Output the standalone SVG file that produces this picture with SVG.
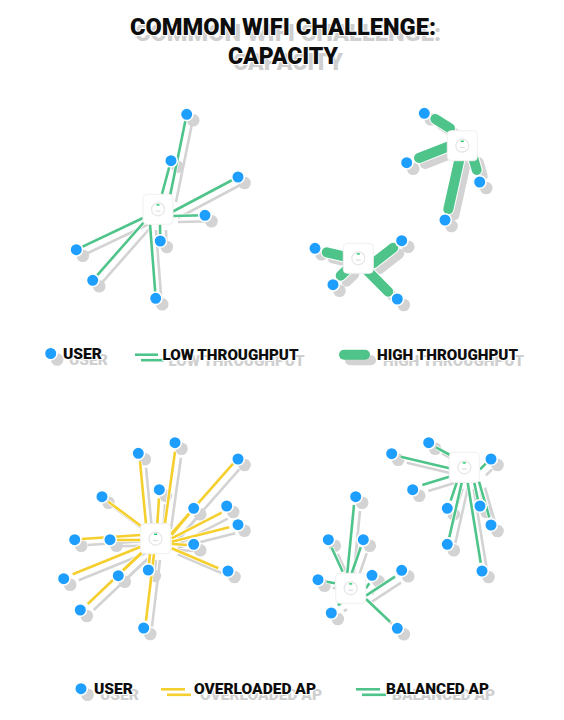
<svg xmlns="http://www.w3.org/2000/svg" xmlns:xlink="http://www.w3.org/1999/xlink" width="564" height="720" viewBox="0 0 564 720">
<style>
.bg{fill:#fff}
.sh{stroke:#d3d3d3;fill:#d3d3d3}
.halo{stroke:#fff;fill:#fff}
line{stroke-linecap:butt}
.green{stroke:#4fc48a;stroke-width:2.6;fill:none}
.yellow{stroke:#f5cf2e;stroke-width:2.6;fill:none}
.thick{stroke:#4fc48a;stroke-width:10;fill:none}
.thick line{stroke-linecap:round}
.sw2{stroke-width:2.6}.sw9{stroke-width:10}.hw2{stroke-width:4}.hw9{stroke-width:12}
.users{fill:#1e9fff;stroke:#fff;stroke-width:1.6}
.ushadow{fill:#d3d3d3;stroke:none}
.ap{fill:#fff;stroke:#f0f0f0;stroke-width:1}
.ring{fill:#fff;stroke:#e6e6e6;stroke-width:1.2}
.led{fill:#19c76a}
.tick{fill:#dedede}
.t{font-family:"Roboto","Liberation Sans",sans-serif;font-weight:900}
.title{font-size:24px}
.leg{font-size:14.5px}
.ink{fill:#0d0d0d;stroke:#fff;stroke-width:2;paint-order:stroke}
.tsh{fill:#cfcfcf;stroke:none}
</style>
<rect class="bg" width="564" height="720"/>

<g id="shadows">
<use href="#c-tl" class="sh sw2" transform="translate(6,6)"/>
<use href="#c-tr" class="sh sw9" transform="translate(6,6)"/>
<use href="#c-bl" class="sh sw2" transform="translate(6,6)"/>
<use href="#c-br" class="sh sw2" transform="translate(6,6)"/>
<use href="#c-legend" class="sh sw2" transform="translate(6,5.500)"/>
<use href="#c-legend-thick" class="sh sw9" transform="translate(6,5.500)"/>
<use href="#users-all" class="ushadow" transform="translate(6.500,6)"/>
</g>

<g id="text-shadows" class="t tsh">
<use href="#title" transform="translate(5,6)"/>
<use href="#legend-text" transform="translate(6,6.500)"/>
</g>

<g id="connector-halos">
<use href="#c-tl" class="halo hw2"/>
<use href="#c-bl" class="halo hw2"/>
<use href="#c-br" class="halo hw2"/>
<use href="#c-tr" class="halo hw9"/>
</g>

<g id="connectors">
<g class="green"><g id="c-tl">
<line x1="186.700" y1="114.300" x2="170" y2="196"/>
<line x1="171" y1="160.700" x2="162" y2="194"/>
<line x1="238" y1="177" x2="172" y2="212"/>
<line x1="205" y1="215.300" x2="172" y2="216"/>
<line x1="160.300" y1="241" x2="160" y2="224"/>
<line x1="76.300" y1="249.700" x2="143" y2="218"/>
<line x1="92.700" y1="280.300" x2="145" y2="221"/>
<line x1="155.700" y1="298.300" x2="150" y2="224"/>
</g></g>
<g class="thick"><g id="c-tr">
<line x1="435.300" y1="119" x2="450" y2="128.300"/>
<line x1="419" y1="158" x2="448" y2="146.700"/>
<line x1="476.700" y1="170" x2="472.700" y2="156"/>
<line x1="448.300" y1="209.300" x2="459.300" y2="160"/>
<line x1="326.700" y1="252.300" x2="345" y2="256.700"/>
<line x1="393.300" y1="247.700" x2="373.300" y2="263.300"/>
<line x1="340.700" y1="275.700" x2="348.300" y2="268.300"/>
<line x1="388.300" y1="291.700" x2="366.700" y2="270"/>
</g></g>
<g class="yellow"><g id="c-bl">
<line x1="175" y1="451.700" x2="165" y2="523"/>
<line x1="140" y1="461.700" x2="146" y2="524"/>
<line x1="233.300" y1="463.300" x2="171.700" y2="533.300"/>
<line x1="159" y1="498.300" x2="157.300" y2="524"/>
<line x1="108.300" y1="501.700" x2="140.700" y2="525.700"/>
<line x1="193.700" y1="508.300" x2="171.700" y2="535"/>
<line x1="221.700" y1="512.700" x2="171.700" y2="538.300"/>
<line x1="229.300" y1="527.300" x2="171.700" y2="541.700"/>
<line x1="188.300" y1="545" x2="171.700" y2="544"/>
<line x1="110" y1="540" x2="140.700" y2="540"/>
<line x1="81.700" y1="539" x2="140.700" y2="535"/>
<line x1="148.300" y1="570" x2="150" y2="554"/>
<line x1="123.300" y1="570" x2="141.700" y2="552.700"/>
<line x1="218.300" y1="568.300" x2="171.700" y2="548.300"/>
<line x1="72.700" y1="574.300" x2="140.700" y2="546.700"/>
<line x1="87.700" y1="604" x2="141.700" y2="552.700"/>
<line x1="146" y1="620.700" x2="154" y2="554"/>
</g></g>
<g class="green"><g id="c-br">
<line x1="436" y1="447.300" x2="450" y2="455"/>
<line x1="400.700" y1="456.700" x2="449.300" y2="468.300"/>
<line x1="422.300" y1="485" x2="449.300" y2="476.700"/>
<line x1="486" y1="463.300" x2="480" y2="469.300"/>
<line x1="450.700" y1="500.700" x2="456.700" y2="482.700"/>
<line x1="449.300" y1="537.300" x2="461.700" y2="482.700"/>
<line x1="480.700" y1="562.700" x2="467.700" y2="482.700"/>
<line x1="478.300" y1="501.700" x2="474.300" y2="482.700"/>
<line x1="489.300" y1="517.300" x2="479" y2="481.700"/>
<line x1="354" y1="505" x2="347.300" y2="573.300"/>
<line x1="331.700" y1="547.700" x2="342.700" y2="571.700"/>
<line x1="360.700" y1="547.300" x2="351.700" y2="573.300"/>
<line x1="369.300" y1="583.300" x2="366" y2="588.300"/>
<line x1="395" y1="576.700" x2="366" y2="595.700"/>
<line x1="326.700" y1="581.700" x2="335" y2="583.300"/>
<line x1="337.700" y1="605" x2="341" y2="603.300"/>
<line x1="390" y1="621.700" x2="366" y2="599"/>
</g></g>
<g id="c-legend">
<line class="green" x1="135" y1="354.700" x2="158" y2="354.700"/>
<line class="yellow" x1="161" y1="689.300" x2="185" y2="689.300"/>
<line class="green" x1="356" y1="689.300" x2="380" y2="689.300"/>
</g>
<g class="thick"><g id="c-legend-thick"><line x1="344" y1="354.700" x2="365" y2="354.700"/></g></g>
</g>

<g id="access-points">
<g id="ap-1"><rect class="ap" x="143" y="194.300" width="30" height="30" rx="4"/><circle class="ring" cx="158" cy="209.300" r="6.500"/><rect class="led" x="156.500" y="204.200" width="3" height="1.400"/><rect class="tick" x="155.500" y="210.500" width="5" height="1.200"/></g>
<g id="ap-2"><rect class="ap" x="447.300" y="130.700" width="30" height="30" rx="4"/><circle class="ring" cx="462.300" cy="145.700" r="6.500"/><rect class="led" x="460.800" y="140.600" width="3" height="1.400"/><rect class="tick" x="459.800" y="146.900" width="5" height="1.200"/></g>
<g id="ap-3"><rect class="ap" x="343.300" y="243.300" width="30" height="30" rx="4"/><circle class="ring" cx="358.300" cy="258.300" r="6.500"/><rect class="led" x="356.800" y="253.200" width="3" height="1.400"/><rect class="tick" x="355.800" y="259.500" width="5" height="1.200"/></g>
<g id="ap-4"><rect class="ap" x="140.500" y="523.700" width="30" height="30" rx="4"/><circle class="ring" cx="155.500" cy="538.700" r="6.500"/><rect class="led" x="154" y="533.600" width="3" height="1.400"/><rect class="tick" x="153" y="539.900" width="5" height="1.200"/></g>
<g id="ap-5"><rect class="ap" x="449.300" y="452.300" width="30" height="30" rx="4"/><circle class="ring" cx="464.300" cy="467.300" r="6.500"/><rect class="led" x="462.800" y="462.200" width="3" height="1.400"/><rect class="tick" x="461.800" y="468.500" width="5" height="1.200"/></g>
<g id="ap-6"><rect class="ap" x="335.700" y="573.300" width="30" height="30" rx="4"/><circle class="ring" cx="350.700" cy="588.300" r="6.500"/><rect class="led" x="349.200" y="583.200" width="3" height="1.400"/><rect class="tick" x="348.200" y="589.500" width="5" height="1.200"/></g>
</g>

<g class="users"><g id="users-all">
<g id="user-1"><circle cx="186.700" cy="114.300" r="6.300"/></g>
<g id="user-2"><circle cx="171" cy="160.700" r="6.300"/></g>
<g id="user-3"><circle cx="238" cy="177" r="6.300"/></g>
<g id="user-4"><circle cx="205" cy="215.300" r="6.300"/></g>
<g id="user-5"><circle cx="160.300" cy="241" r="6.300"/></g>
<g id="user-6"><circle cx="76.300" cy="249.700" r="6.300"/></g>
<g id="user-7"><circle cx="92.700" cy="280.300" r="6.300"/></g>
<g id="user-8"><circle cx="155.700" cy="298.300" r="6.300"/></g>
<g id="user-9"><circle cx="424.300" cy="113.300" r="6.300"/></g>
<g id="user-10"><circle cx="406.700" cy="162.700" r="6.300"/></g>
<g id="user-11"><circle cx="479.700" cy="182" r="6.300"/></g>
<g id="user-12"><circle cx="445" cy="220" r="6.300"/></g>
<g id="user-13"><circle cx="315" cy="248.300" r="6.300"/></g>
<g id="user-14"><circle cx="401.700" cy="240.700" r="6.300"/></g>
<g id="user-15"><circle cx="333" cy="284.700" r="6.300"/></g>
<g id="user-16"><circle cx="397.300" cy="299" r="6.300"/></g>
<g id="user-17"><circle cx="175" cy="442.700" r="6.300"/></g>
<g id="user-18"><circle cx="138.300" cy="453.300" r="6.300"/></g>
<g id="user-19"><circle cx="238" cy="459" r="6.300"/></g>
<g id="user-20"><circle cx="159.300" cy="489.700" r="6.300"/></g>
<g id="user-21"><circle cx="102" cy="496.700" r="6.300"/></g>
<g id="user-22"><circle cx="193.700" cy="508.300" r="6.300"/></g>
<g id="user-23"><circle cx="226.700" cy="506" r="6.300"/></g>
<g id="user-24"><circle cx="238" cy="524.700" r="6.300"/></g>
<g id="user-25"><circle cx="193.700" cy="544.300" r="6.300"/></g>
<g id="user-26"><circle cx="110" cy="539.700" r="6.300"/></g>
<g id="user-27"><circle cx="74.700" cy="539.700" r="6.300"/></g>
<g id="user-28"><circle cx="148.300" cy="570" r="6.300"/></g>
<g id="user-29"><circle cx="118.300" cy="575.700" r="6.300"/></g>
<g id="user-30"><circle cx="228" cy="571" r="6.300"/></g>
<g id="user-31"><circle cx="63.700" cy="578.700" r="6.300"/></g>
<g id="user-32"><circle cx="80.300" cy="610" r="6.300"/></g>
<g id="user-33"><circle cx="143.700" cy="628" r="6.300"/></g>
<g id="user-34"><circle cx="428.700" cy="442.700" r="6.300"/></g>
<g id="user-35"><circle cx="391.700" cy="453.700" r="6.300"/></g>
<g id="user-36"><circle cx="491" cy="459" r="6.300"/></g>
<g id="user-37"><circle cx="412.700" cy="489.700" r="6.300"/></g>
<g id="user-38"><circle cx="447.300" cy="508.300" r="6.300"/></g>
<g id="user-39"><circle cx="480" cy="506" r="6.300"/></g>
<g id="user-40"><circle cx="491" cy="525" r="6.300"/></g>
<g id="user-41"><circle cx="447.300" cy="544.300" r="6.300"/></g>
<g id="user-42"><circle cx="482" cy="571" r="6.300"/></g>
<g id="user-43"><circle cx="355.700" cy="496.700" r="6.300"/></g>
<g id="user-44"><circle cx="328.300" cy="539.700" r="6.300"/></g>
<g id="user-45"><circle cx="363.300" cy="539.700" r="6.300"/></g>
<g id="user-46"><circle cx="372" cy="575.300" r="6.300"/></g>
<g id="user-47"><circle cx="401.700" cy="570.300" r="6.300"/></g>
<g id="user-48"><circle cx="318" cy="579.700" r="6.300"/></g>
<g id="user-49"><circle cx="331.300" cy="613" r="6.300"/></g>
<g id="user-50"><circle cx="397.300" cy="628.300" r="6.300"/></g>
<g id="legend-user-1"><circle cx="50.700" cy="353.500" r="6.300"/></g>
<g id="legend-user-2"><circle cx="81" cy="688.700" r="6.300"/></g>
</g></g>

<g class="t ink">
<g id="title" class="title">
<text x="130" y="35" textLength="306" lengthAdjust="spacingAndGlyphs">COMMON WIFI CHALLENGE:</text>
<text x="228" y="64" textLength="110" lengthAdjust="spacingAndGlyphs">CAPACITY</text>
</g>
<g id="legend-text" class="leg">
<text x="63" y="358.500" textLength="39" lengthAdjust="spacingAndGlyphs">USER</text>
<text x="162.500" y="359.500" textLength="136" lengthAdjust="spacingAndGlyphs">LOW THROUGHPUT</text>
<text x="377" y="359.500" textLength="141" lengthAdjust="spacingAndGlyphs">HIGH THROUGHPUT</text>
<text x="94" y="693.500" textLength="39" lengthAdjust="spacingAndGlyphs">USER</text>
<text x="194" y="693.500" textLength="122" lengthAdjust="spacingAndGlyphs">OVERLOADED AP</text>
<text x="386" y="693.500" textLength="103" lengthAdjust="spacingAndGlyphs">BALANCED AP</text>
</g>
</g>
</svg>
